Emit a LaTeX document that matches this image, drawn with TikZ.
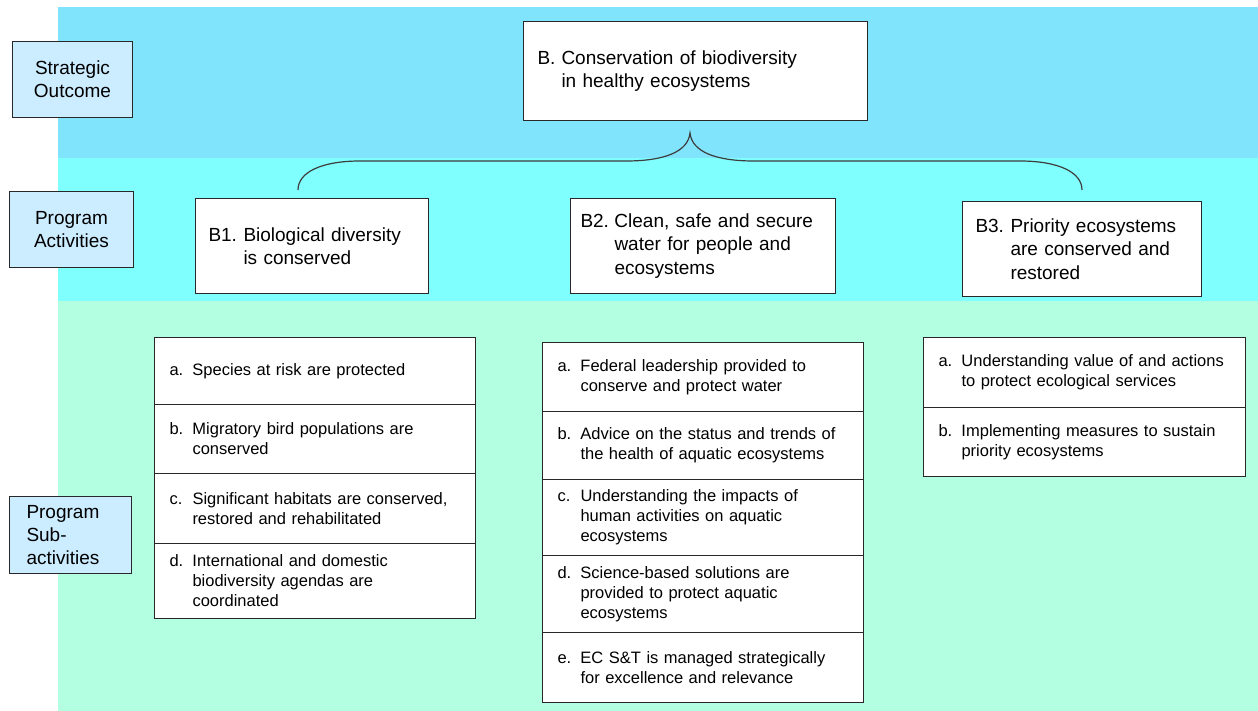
\documentclass[tikz,border=0pt]{standalone}
\usepackage{fontspec}
\setmainfont{Liberation Sans}
\definecolor{bandtop}{RGB}{128,228,253}
\definecolor{bandmid}{RGB}{128,255,255}
\definecolor{bandlow}{RGB}{178,255,226}
\definecolor{tagfill}{RGB}{204,236,255}
\definecolor{edge}{RGB}{40,40,40}
\newcommand{\lbl}[2]{\makebox[#1][l]{#2}}
\begin{document}
\begin{tikzpicture}[x=1pt,y=-1pt,
  tagbox/.style={draw=edge, line width=1pt, fill=tagfill, anchor=north west,
    align=center, inner sep=0pt, font=\fontsize{19}{23}\selectfont},
  actbox/.style={draw=edge, line width=1pt, fill=white, anchor=north west,
    align=left, inner ysep=0pt, font=\fontsize{19}{23.5}\selectfont},
  subcell/.style={draw=edge, line width=1pt, fill=white, anchor=north west,
    align=left, inner xsep=15pt, inner ysep=0pt, text width=291pt,
    font=\fontsize{16.5}{20}\selectfont},
  brace/.style={draw=edge!90, line width=1.2pt}]
% page and the three horizontal bands
\fill[white] (0,0) rectangle (1258,711);
\useasboundingbox (0,0) rectangle (1258,711);
\fill[bandtop] (58,7) rectangle (1258,158);
\fill[bandmid] (58,158) rectangle (1258,301);
\fill[bandlow] (58,301) rectangle (1258,711);

% row tags
\node[tagbox, minimum width=120pt, minimum height=76pt] (tagSO) at (12,41) {Strategic\\Outcome};
\node[tagbox, minimum width=124pt, minimum height=76pt] (tagPA) at (9,191) {Program\\Activities};
\node[tagbox, minimum width=122pt, minimum height=77pt, align=left, inner xsep=17pt, text width=88pt] (tagPS) at (9,496) {Program\\Sub-\\activities};

% strategic outcome
\node[actbox, minimum width=344pt, minimum height=99pt, inner xsep=14pt, text width=316pt] (B) at (523,21)
  {\lbl{24pt}{B.}Conservation of biodiversity\\\hspace*{24pt}in healthy ecosystems};

% program activities
\node[actbox, minimum width=233pt, minimum height=95pt, inner xsep=13pt, text width=207pt] (B1) at (195,198)
  {\lbl{35pt}{B1.}Biological diversity\\\hspace*{35pt}is conserved};
\node[actbox, minimum width=265pt, minimum height=95pt, inner xsep=10pt, text width=245pt] (B2) at (570,198)
  {\lbl{34pt}{B2.}Clean, safe and secure\\\hspace*{34pt}water for people and\\\hspace*{34pt}ecosystems};
\node[actbox, minimum width=239pt, minimum height=95pt, inner xsep=13pt, text width=213pt] (B3) at (962,201)
  {\lbl{35pt}{B3.}Priority ecosystems\\\hspace*{35pt}are conserved and\\\hspace*{35pt}restored};

% brace joining the outcome to its activities
\coordinate (tip) at (690,133);
\coordinate (endL) at (298,190);
\coordinate (endR) at (1082,190);
\draw[brace] (endL) .. controls (298,172) and (322,161) .. (360,161) -- (626,161)
  .. controls (664,161) and (688,152) .. (tip)
  .. controls (692,152) and (716,161) .. (754,161) -- (1020,161)
  .. controls (1058,161) and (1082,172) .. (endR);

% sub-activities of B1
\node[subcell, minimum width=321pt, minimum height=67pt] (b1a) at (154,337)
  {\lbl{23pt}{a.}Species at risk are protected};
\node[subcell, minimum width=321pt, minimum height=69pt] (b1b) at (154,404)
  {\lbl{23pt}{b.}Migratory bird populations are\\\hspace*{23pt}conserved};
\node[subcell, minimum width=321pt, minimum height=70pt] (b1c) at (154,473)
  {\lbl{23pt}{c.}Significant habitats are conserved,\\\hspace*{23pt}restored and rehabilitated};
\node[subcell, minimum width=321pt, minimum height=75pt] (b1d) at (154,543)
  {\lbl{23pt}{d.}International and domestic\\\hspace*{23pt}biodiversity agendas are\\\hspace*{23pt}coordinated};

% sub-activities of B2
\node[subcell, minimum width=321pt, minimum height=69pt] (b2a) at (542,342)
  {\lbl{23pt}{a.}Federal leadership provided to\\\hspace*{23pt}conserve and protect water};
\node[subcell, minimum width=321pt, minimum height=68pt] (b2b) at (542,411)
  {\lbl{23pt}{b.}Advice on the status and trends of\\\hspace*{23pt}the health of aquatic ecosystems};
\node[subcell, minimum width=321pt, minimum height=76pt] (b2c) at (542,479)
  {\lbl{23pt}{c.}Understanding the impacts of\\\hspace*{23pt}human activities on aquatic\\\hspace*{23pt}ecosystems};
\node[subcell, minimum width=321pt, minimum height=77pt] (b2d) at (542,555)
  {\lbl{23pt}{d.}Science-based solutions are\\\hspace*{23pt}provided to protect aquatic\\\hspace*{23pt}ecosystems};
\node[subcell, minimum width=321pt, minimum height=70pt] (b2e) at (542,632)
  {\lbl{23pt}{e.}EC S\&T is managed strategically\\\hspace*{23pt}for excellence and relevance};

% sub-activities of B3
\node[subcell, minimum width=322pt, minimum height=70pt, text width=292pt, inner xsep=15pt] (b3a) at (923,337)
  {\lbl{23pt}{a.}Understanding value of and actions\\\hspace*{23pt}to protect ecological services};
\node[subcell, minimum width=322pt, minimum height=69pt, text width=292pt, inner xsep=15pt] (b3b) at (923,407)
  {\lbl{23pt}{b.}Implementing measures to sustain\\\hspace*{23pt}priority ecosystems};
\end{tikzpicture}
\end{document}
